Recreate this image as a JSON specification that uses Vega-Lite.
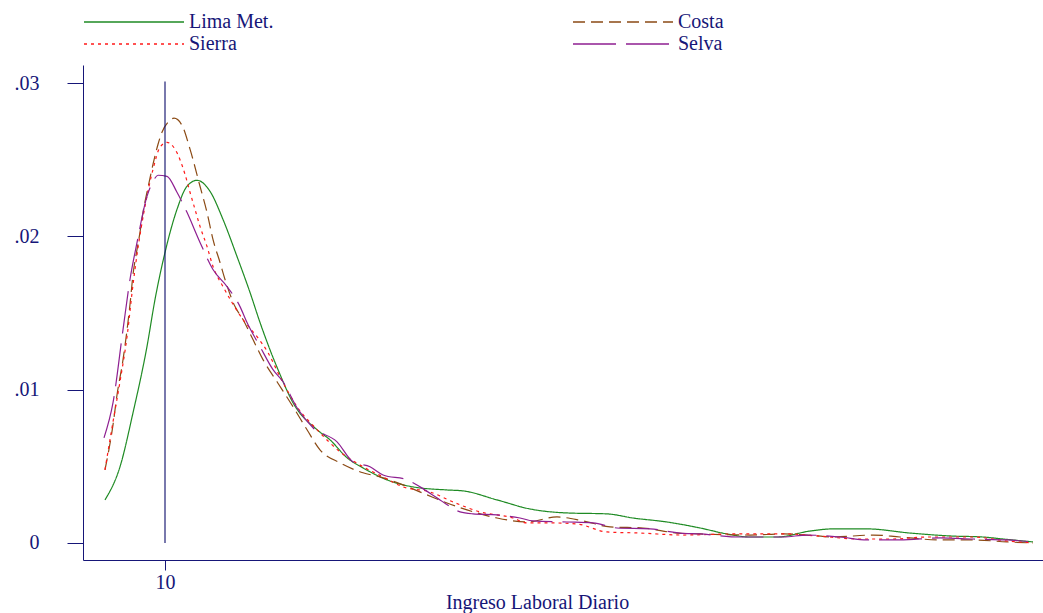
{
  "$schema": "https://vega.github.io/schema/vega-lite/v6.json",
  "width": 960,
  "height": 495,
  "autosize": {"type": "none"},
  "padding": {"left": 83, "top": 65, "right": 0, "bottom": 53},
  "background": "white",
  "config": {
    "view": {"stroke": null},
    "font": "Liberation Serif",
    "legend": {
      "orient": "none",
      "legendX": 0,
      "legendY": -54,
      "columns": 2,
      "title": null,
      "symbolType": "stroke",
      "symbolSize": 10000,
      "symbolStrokeWidth": 1.4,
      "clipHeight": 22,
      "labelFont": "Liberation Serif",
      "labelFontSize": 20,
      "labelColor": "#161678",
      "columnPadding": 298,
      "rowPadding": 0,
      "labelOffset": 4,
      "symbolOffset": 0,
      "padding": 0
    }
  },
  "layer": [
    {
      "data": {
        "values": [
          {"region": "Lima Met.", "ingreso": 2.68, "densidad": 0.00281},
          {"region": "Lima Met.", "ingreso": 4.51, "densidad": 0.00497},
          {"region": "Lima Met.", "ingreso": 6.10, "densidad": 0.00850},
          {"region": "Lima Met.", "ingreso": 7.80, "densidad": 0.01281},
          {"region": "Lima Met.", "ingreso": 8.78, "densidad": 0.01588},
          {"region": "Lima Met.", "ingreso": 10.00, "densidad": 0.01895},
          {"region": "Lima Met.", "ingreso": 11.46, "densidad": 0.02176},
          {"region": "Lima Met.", "ingreso": 12.68, "densidad": 0.02327},
          {"region": "Lima Met.", "ingreso": 13.90, "densidad": 0.02366},
          {"region": "Lima Met.", "ingreso": 15.49, "densidad": 0.02294},
          {"region": "Lima Met.", "ingreso": 17.07, "densidad": 0.02111},
          {"region": "Lima Met.", "ingreso": 18.78, "densidad": 0.01869},
          {"region": "Lima Met.", "ingreso": 20.37, "densidad": 0.01634},
          {"region": "Lima Met.", "ingreso": 21.59, "densidad": 0.01438},
          {"region": "Lima Met.", "ingreso": 22.80, "densidad": 0.01261},
          {"region": "Lima Met.", "ingreso": 23.78, "densidad": 0.01131},
          {"region": "Lima Met.", "ingreso": 25.61, "densidad": 0.00915},
          {"region": "Lima Met.", "ingreso": 28.54, "densidad": 0.00739},
          {"region": "Lima Met.", "ingreso": 30.12, "densidad": 0.00673},
          {"region": "Lima Met.", "ingreso": 32.20, "densidad": 0.00556},
          {"region": "Lima Met.", "ingreso": 34.15, "densidad": 0.00490},
          {"region": "Lima Met.", "ingreso": 37.07, "densidad": 0.00412},
          {"region": "Lima Met.", "ingreso": 40.24, "densidad": 0.00366},
          {"region": "Lima Met.", "ingreso": 44.39, "densidad": 0.00346},
          {"region": "Lima Met.", "ingreso": 46.34, "densidad": 0.00340},
          {"region": "Lima Met.", "ingreso": 50.49, "densidad": 0.00281},
          {"region": "Lima Met.", "ingreso": 54.51, "densidad": 0.00222},
          {"region": "Lima Met.", "ingreso": 59.02, "densidad": 0.00196},
          {"region": "Lima Met.", "ingreso": 63.90, "densidad": 0.00190},
          {"region": "Lima Met.", "ingreso": 67.07, "densidad": 0.00163},
          {"region": "Lima Met.", "ingreso": 71.22, "densidad": 0.00137},
          {"region": "Lima Met.", "ingreso": 75.24, "densidad": 0.00098},
          {"region": "Lima Met.", "ingreso": 78.54, "densidad": 0.00059},
          {"region": "Lima Met.", "ingreso": 81.34, "densidad": 0.00039},
          {"region": "Lima Met.", "ingreso": 84.63, "densidad": 0.00039},
          {"region": "Lima Met.", "ingreso": 88.66, "densidad": 0.00078},
          {"region": "Lima Met.", "ingreso": 91.46, "densidad": 0.00092},
          {"region": "Lima Met.", "ingreso": 95.61, "densidad": 0.00092},
          {"region": "Lima Met.", "ingreso": 100.85, "densidad": 0.00065},
          {"region": "Lima Met.", "ingreso": 105.73, "densidad": 0.00046},
          {"region": "Lima Met.", "ingreso": 109.76, "densidad": 0.00039},
          {"region": "Lima Met.", "ingreso": 112.20, "densidad": 0.00026},
          {"region": "Lima Met.", "ingreso": 115.85, "densidad": 0.00007},

          {"region": "Costa", "ingreso": 2.68, "densidad": 0.00477},
          {"region": "Costa", "ingreso": 3.66, "densidad": 0.00771},
          {"region": "Costa", "ingreso": 4.15, "densidad": 0.00967},
          {"region": "Costa", "ingreso": 4.88, "densidad": 0.01196},
          {"region": "Costa", "ingreso": 5.73, "densidad": 0.01556},
          {"region": "Costa", "ingreso": 6.10, "densidad": 0.01752},
          {"region": "Costa", "ingreso": 6.59, "densidad": 0.01915},
          {"region": "Costa", "ingreso": 6.95, "densidad": 0.02026},
          {"region": "Costa", "ingreso": 7.32, "densidad": 0.02157},
          {"region": "Costa", "ingreso": 7.93, "densidad": 0.02320},
          {"region": "Costa", "ingreso": 8.54, "densidad": 0.02471},
          {"region": "Costa", "ingreso": 9.15, "densidad": 0.02601},
          {"region": "Costa", "ingreso": 9.63, "densidad": 0.02680},
          {"region": "Costa", "ingreso": 10.37, "densidad": 0.02745},
          {"region": "Costa", "ingreso": 11.10, "densidad": 0.02771},
          {"region": "Costa", "ingreso": 12.07, "densidad": 0.02725},
          {"region": "Costa", "ingreso": 13.05, "densidad": 0.02569},
          {"region": "Costa", "ingreso": 14.27, "densidad": 0.02327},
          {"region": "Costa", "ingreso": 15.12, "densidad": 0.02157},
          {"region": "Costa", "ingreso": 15.85, "densidad": 0.01980},
          {"region": "Costa", "ingreso": 16.71, "densidad": 0.01830},
          {"region": "Costa", "ingreso": 17.32, "densidad": 0.01719},
          {"region": "Costa", "ingreso": 18.54, "densidad": 0.01542},
          {"region": "Costa", "ingreso": 19.51, "densidad": 0.01458},
          {"region": "Costa", "ingreso": 20.73, "densidad": 0.01327},
          {"region": "Costa", "ingreso": 21.95, "densidad": 0.01196},
          {"region": "Costa", "ingreso": 23.66, "densidad": 0.01052},
          {"region": "Costa", "ingreso": 25.61, "densidad": 0.00889},
          {"region": "Costa", "ingreso": 27.32, "densidad": 0.00739},
          {"region": "Costa", "ingreso": 28.90, "densidad": 0.00608},
          {"region": "Costa", "ingreso": 31.34, "densidad": 0.00523},
          {"region": "Costa", "ingreso": 34.15, "densidad": 0.00458},
          {"region": "Costa", "ingreso": 36.22, "densidad": 0.00431},
          {"region": "Costa", "ingreso": 39.02, "densidad": 0.00379},
          {"region": "Costa", "ingreso": 41.95, "densidad": 0.00314},
          {"region": "Costa", "ingreso": 44.39, "densidad": 0.00261},
          {"region": "Costa", "ingreso": 46.83, "densidad": 0.00216},
          {"region": "Costa", "ingreso": 50.49, "densidad": 0.00163},
          {"region": "Costa", "ingreso": 54.15, "densidad": 0.00137},
          {"region": "Costa", "ingreso": 57.80, "densidad": 0.00170},
          {"region": "Costa", "ingreso": 60.98, "densidad": 0.00144},
          {"region": "Costa", "ingreso": 64.27, "densidad": 0.00105},
          {"region": "Costa", "ingreso": 68.29, "densidad": 0.00098},
          {"region": "Costa", "ingreso": 72.44, "densidad": 0.00065},
          {"region": "Costa", "ingreso": 75.24, "densidad": 0.00059},
          {"region": "Costa", "ingreso": 81.34, "densidad": 0.00052},
          {"region": "Costa", "ingreso": 85.37, "densidad": 0.00059},
          {"region": "Costa", "ingreso": 88.29, "densidad": 0.00052},
          {"region": "Costa", "ingreso": 91.46, "densidad": 0.00039},
          {"region": "Costa", "ingreso": 96.34, "densidad": 0.00052},
          {"region": "Costa", "ingreso": 99.63, "densidad": 0.00039},
          {"region": "Costa", "ingreso": 104.51, "densidad": 0.00020},
          {"region": "Costa", "ingreso": 108.54, "densidad": 0.00020},
          {"region": "Costa", "ingreso": 112.68, "densidad": 0.00007},
          {"region": "Costa", "ingreso": 115.85, "densidad": 0.00000},

          {"region": "Sierra", "ingreso": 2.68, "densidad": 0.00477},
          {"region": "Sierra", "ingreso": 3.66, "densidad": 0.00791},
          {"region": "Sierra", "ingreso": 4.51, "densidad": 0.01052},
          {"region": "Sierra", "ingreso": 5.37, "densidad": 0.01346},
          {"region": "Sierra", "ingreso": 6.10, "densidad": 0.01686},
          {"region": "Sierra", "ingreso": 6.59, "densidad": 0.01882},
          {"region": "Sierra", "ingreso": 7.56, "densidad": 0.02196},
          {"region": "Sierra", "ingreso": 8.54, "densidad": 0.02438},
          {"region": "Sierra", "ingreso": 9.39, "densidad": 0.02582},
          {"region": "Sierra", "ingreso": 10.24, "densidad": 0.02614},
          {"region": "Sierra", "ingreso": 11.22, "densidad": 0.02569},
          {"region": "Sierra", "ingreso": 12.44, "densidad": 0.02405},
          {"region": "Sierra", "ingreso": 13.05, "densidad": 0.02288},
          {"region": "Sierra", "ingreso": 13.66, "densidad": 0.02176},
          {"region": "Sierra", "ingreso": 14.27, "densidad": 0.02065},
          {"region": "Sierra", "ingreso": 15.12, "densidad": 0.01935},
          {"region": "Sierra", "ingreso": 15.85, "densidad": 0.01804},
          {"region": "Sierra", "ingreso": 17.07, "densidad": 0.01673},
          {"region": "Sierra", "ingreso": 18.17, "densidad": 0.01569},
          {"region": "Sierra", "ingreso": 19.51, "densidad": 0.01458},
          {"region": "Sierra", "ingreso": 21.22, "densidad": 0.01346},
          {"region": "Sierra", "ingreso": 22.56, "densidad": 0.01242},
          {"region": "Sierra", "ingreso": 24.02, "densidad": 0.01085},
          {"region": "Sierra", "ingreso": 26.10, "densidad": 0.00889},
          {"region": "Sierra", "ingreso": 28.54, "densidad": 0.00739},
          {"region": "Sierra", "ingreso": 31.34, "densidad": 0.00595},
          {"region": "Sierra", "ingreso": 34.15, "densidad": 0.00497},
          {"region": "Sierra", "ingreso": 36.59, "densidad": 0.00431},
          {"region": "Sierra", "ingreso": 39.02, "densidad": 0.00366},
          {"region": "Sierra", "ingreso": 42.32, "densidad": 0.00333},
          {"region": "Sierra", "ingreso": 45.12, "densidad": 0.00268},
          {"region": "Sierra", "ingreso": 48.41, "densidad": 0.00203},
          {"region": "Sierra", "ingreso": 52.44, "densidad": 0.00163},
          {"region": "Sierra", "ingreso": 54.15, "densidad": 0.00131},
          {"region": "Sierra", "ingreso": 56.95, "densidad": 0.00131},
          {"region": "Sierra", "ingreso": 60.24, "densidad": 0.00124},
          {"region": "Sierra", "ingreso": 63.90, "densidad": 0.00072},
          {"region": "Sierra", "ingreso": 67.93, "densidad": 0.00065},
          {"region": "Sierra", "ingreso": 73.17, "densidad": 0.00052},
          {"region": "Sierra", "ingreso": 79.27, "densidad": 0.00059},
          {"region": "Sierra", "ingreso": 85.85, "densidad": 0.00059},
          {"region": "Sierra", "ingreso": 89.51, "densidad": 0.00046},
          {"region": "Sierra", "ingreso": 94.76, "densidad": 0.00026},
          {"region": "Sierra", "ingreso": 98.78, "densidad": 0.00026},
          {"region": "Sierra", "ingreso": 102.93, "densidad": 0.00039},
          {"region": "Sierra", "ingreso": 108.54, "densidad": 0.00039},
          {"region": "Sierra", "ingreso": 112.68, "densidad": 0.00013},
          {"region": "Sierra", "ingreso": 115.85, "densidad": 0.00000},

          {"region": "Selva", "ingreso": 2.56, "densidad": 0.00686},
          {"region": "Selva", "ingreso": 3.66, "densidad": 0.00915},
          {"region": "Selva", "ingreso": 4.88, "densidad": 0.01392},
          {"region": "Selva", "ingreso": 5.73, "densidad": 0.01719},
          {"region": "Selva", "ingreso": 6.59, "densidad": 0.01961},
          {"region": "Selva", "ingreso": 7.80, "densidad": 0.02261},
          {"region": "Selva", "ingreso": 8.54, "densidad": 0.02359},
          {"region": "Selva", "ingreso": 9.15, "densidad": 0.02399},
          {"region": "Selva", "ingreso": 10.24, "densidad": 0.02392},
          {"region": "Selva", "ingreso": 11.46, "densidad": 0.02288},
          {"region": "Selva", "ingreso": 12.68, "densidad": 0.02157},
          {"region": "Selva", "ingreso": 14.27, "densidad": 0.01961},
          {"region": "Selva", "ingreso": 15.85, "densidad": 0.01784},
          {"region": "Selva", "ingreso": 17.56, "densidad": 0.01673},
          {"region": "Selva", "ingreso": 19.15, "densidad": 0.01542},
          {"region": "Selva", "ingreso": 20.00, "densidad": 0.01438},
          {"region": "Selva", "ingreso": 21.59, "densidad": 0.01281},
          {"region": "Selva", "ingreso": 23.17, "densidad": 0.01131},
          {"region": "Selva", "ingreso": 24.39, "densidad": 0.01052},
          {"region": "Selva", "ingreso": 26.10, "densidad": 0.00882},
          {"region": "Selva", "ingreso": 28.05, "densidad": 0.00752},
          {"region": "Selva", "ingreso": 30.98, "densidad": 0.00660},
          {"region": "Selva", "ingreso": 32.93, "densidad": 0.00529},
          {"region": "Selva", "ingreso": 35.00, "densidad": 0.00497},
          {"region": "Selva", "ingreso": 36.59, "densidad": 0.00444},
          {"region": "Selva", "ingreso": 39.51, "densidad": 0.00412},
          {"region": "Selva", "ingreso": 41.10, "densidad": 0.00366},
          {"region": "Selva", "ingreso": 43.54, "densidad": 0.00281},
          {"region": "Selva", "ingreso": 45.98, "densidad": 0.00203},
          {"region": "Selva", "ingreso": 47.56, "densidad": 0.00190},
          {"region": "Selva", "ingreso": 50.49, "densidad": 0.00183},
          {"region": "Selva", "ingreso": 53.29, "densidad": 0.00163},
          {"region": "Selva", "ingreso": 54.88, "densidad": 0.00144},
          {"region": "Selva", "ingreso": 59.02, "densidad": 0.00137},
          {"region": "Selva", "ingreso": 62.20, "densidad": 0.00131},
          {"region": "Selva", "ingreso": 65.12, "densidad": 0.00098},
          {"region": "Selva", "ingreso": 69.15, "densidad": 0.00092},
          {"region": "Selva", "ingreso": 72.80, "densidad": 0.00065},
          {"region": "Selva", "ingreso": 75.24, "densidad": 0.00059},
          {"region": "Selva", "ingreso": 80.12, "densidad": 0.00039},
          {"region": "Selva", "ingreso": 85.37, "densidad": 0.00039},
          {"region": "Selva", "ingreso": 88.29, "densidad": 0.00052},
          {"region": "Selva", "ingreso": 92.32, "densidad": 0.00039},
          {"region": "Selva", "ingreso": 95.61, "densidad": 0.00020},
          {"region": "Selva", "ingreso": 99.63, "densidad": 0.00020},
          {"region": "Selva", "ingreso": 104.51, "densidad": 0.00033},
          {"region": "Selva", "ingreso": 108.54, "densidad": 0.00026},
          {"region": "Selva", "ingreso": 112.68, "densidad": 0.00020},
          {"region": "Selva", "ingreso": 115.85, "densidad": 0.00007}
        ]
      },
      "mark": {"type": "line", "strokeWidth": 1.2, "interpolate": "monotone"},
      "encoding": {
        "x": {
          "field": "ingreso",
          "type": "quantitative",
          "scale": {"domain": [0, 117.07], "nice": false, "zero": false},
          "axis": {
            "title": "Ingreso Laboral Diario",
            "values": [10],
            "grid": false,
            "domainColor": "#161678",
            "tickColor": "#161678",
            "tickSize": 10,
            "labelFont": "Liberation Serif",
            "labelFontSize": 20,
            "labelColor": "#161678",
            "labelPadding": 2,
            "labelDx": -8,
            "titleFont": "Liberation Serif",
            "titleFontSize": 20,
            "titleFontWeight": "normal",
            "titleColor": "#161678",
            "titleX": 454,
            "titleY": 48,
            "titleBaseline": "alphabetic",
            "titleAlign": "center"
          }
        },
        "y": {
          "field": "densidad",
          "type": "quantitative",
          "scale": {"domain": [-0.001109, 0.031181], "nice": false, "zero": false},
          "axis": {
            "title": null,
            "values": [0, 0.01, 0.02, 0.03],
            "labelExpr": "datum.value == 0 ? '0' : substring(format(datum.value, '.2f'), 1)",
            "grid": false,
            "domainColor": "#161678",
            "tickColor": "#161678",
            "tickSize": 16,
            "labelFont": "Liberation Serif",
            "labelFontSize": 20,
            "labelColor": "#161678",
            "labelPadding": 28
          }
        },
        "color": {
          "field": "region",
          "type": "nominal",
          "scale": {
            "domain": ["Lima Met.", "Sierra", "Costa", "Selva"],
            "range": ["#1f8b24", "#ff1a1a", "#8b4a14", "#8e1f91"]
          }
        },
        "strokeDash": {
          "field": "region",
          "type": "nominal",
          "scale": {
            "domain": ["Lima Met.", "Sierra", "Costa", "Selva"],
            "range": [[1, 0], [3, 4], [12, 6], [43, 10]]
          }
        }
      }
    },
    {
      "data": {"values": [{"ingreso": 10, "desde": 0, "hasta": 0.0301}]},
      "mark": {"type": "rule", "color": "#0c0c6a", "strokeWidth": 1.1},
      "encoding": {
        "x": {"field": "ingreso", "type": "quantitative", "title": "Ingreso Laboral Diario"},
        "y": {"field": "desde", "type": "quantitative", "title": null},
        "y2": {"field": "hasta"}
      }
    }
  ]
}
